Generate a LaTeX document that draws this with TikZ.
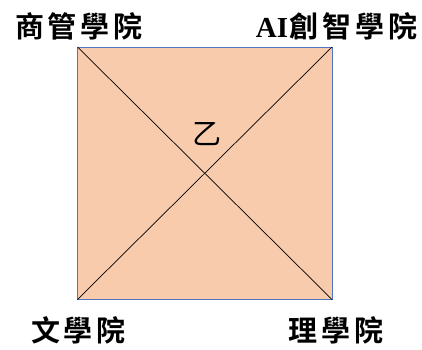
\documentclass[tikz,border=0pt]{standalone}
\usepackage{fontspec}
\newfontfamily\cjkb{Noto Sans CJK TC Bold}
\newfontfamily\cjkr{Noto Sans CJK TC}
\newfontfamily\serifb{Liberation Serif Bold}
\definecolor{peach}{HTML}{F8CBAD}
\definecolor{edgeblue}{HTML}{4F76BE}
\newcommand{\gapc}{\hspace{4pt}}
\begin{document}
\begin{tikzpicture}[x=1pt,y=-1pt,
  corner/.style={font=\cjkb\fontsize{29}{30}\selectfont, inner sep=0pt, anchor=center},
  diag/.style={draw=black, line width=0.7pt}]
\useasboundingbox (0,0) rectangle (422,349);
\coordinate (tl) at (77.5,47);
\coordinate (tr) at (332,47);
\coordinate (bl) at (77.5,299.5);
\coordinate (br) at (332,299.5);
\node[draw=edgeblue, fill=peach, line width=1pt, minimum width=254.5pt, minimum height=252.5pt, inner sep=0pt] (sq) at (204.75,173.25) {};
\draw[diag] (tl) -- (br);
\draw[diag] (tr) -- (bl);
\node[font=\cjkr\fontsize{29}{30}\selectfont, inner sep=0pt] (yi) at (207,134) {乙};
\node[corner] (a) at (79,26) {商\gapc 管\gapc 學\gapc 院};
\node[corner] (b) at (336.5,26) {{\serifb\fontsize{29}{30}\selectfont AI}\hspace{1pt}創\gapc 智\gapc 學\gapc 院};
\node[corner] (c) at (78.5,330) {文\gapc 學\gapc 院};
\node[corner] (d) at (336,330) {理\gapc 學\gapc 院};
\end{tikzpicture}
\end{document}
